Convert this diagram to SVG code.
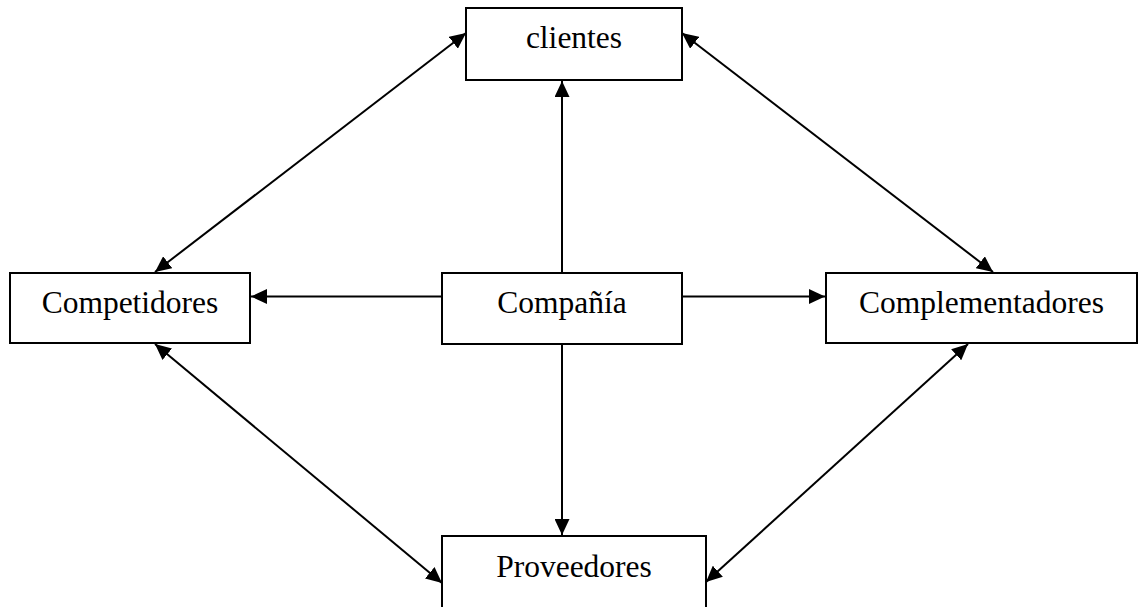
<svg xmlns="http://www.w3.org/2000/svg" width="1139" height="607" viewBox="0 0 1139 607">
  <style>
    .box { fill: #ffffff; stroke: #000000; stroke-width: 2; }
    .label { font-family: "Liberation Serif", "Times New Roman", serif; font-size: 31.5px; fill: #000000; text-anchor: middle; }
    .link { stroke: #000000; stroke-width: 2; fill: none; }
  </style>
  <defs>
    <marker id="head" markerUnits="userSpaceOnUse" markerWidth="16" markerHeight="15" refX="16" refY="7.5" orient="auto-start-reverse">
      <path d="M0,0 L16,7.5 L0,15 z" fill="#000000"/>
    </marker>
  </defs>

  <rect width="1139" height="607" fill="#ffffff"/>

  <!-- connectors -->
  <g id="connectors">
    <line class="link" x1="562" y1="273" x2="562" y2="81" marker-end="url(#head)"/>
    <line class="link" x1="442" y1="296.5" x2="251" y2="296.5" marker-end="url(#head)"/>
    <line class="link" x1="682" y1="296.5" x2="825" y2="296.5" marker-end="url(#head)"/>
    <line class="link" x1="562" y1="344" x2="562" y2="535" marker-end="url(#head)"/>
    <line class="link" x1="466" y1="33" x2="155" y2="272" marker-start="url(#head)" marker-end="url(#head)"/>
    <line class="link" x1="682" y1="33" x2="993" y2="272" marker-start="url(#head)" marker-end="url(#head)"/>
    <line class="link" x1="155" y1="344" x2="442" y2="583" marker-start="url(#head)" marker-end="url(#head)"/>
    <line class="link" x1="968" y1="344" x2="706" y2="582" marker-start="url(#head)" marker-end="url(#head)"/>
  </g>

  <g id="clientes">
    <rect class="box" x="466" y="8" width="216" height="72"/>
    <text class="label" x="574" y="48">clientes</text>
  </g>

  <g id="competidores">
    <rect class="box" x="10" y="273" width="240" height="70"/>
    <text class="label" x="130" y="313">Competidores</text>
  </g>

  <g id="compania">
    <rect class="box" x="442" y="273" width="240" height="71"/>
    <text class="label" x="562" y="313">Compañía</text>
  </g>

  <g id="complementadores">
    <rect class="box" x="826" y="273" width="311" height="70"/>
    <text class="label" x="981.5" y="313">Complementadores</text>
  </g>

  <g id="proveedores">
    <rect class="box" x="442" y="536" width="264" height="80"/>
    <text class="label" x="574" y="577">Proveedores</text>
  </g>
</svg>
